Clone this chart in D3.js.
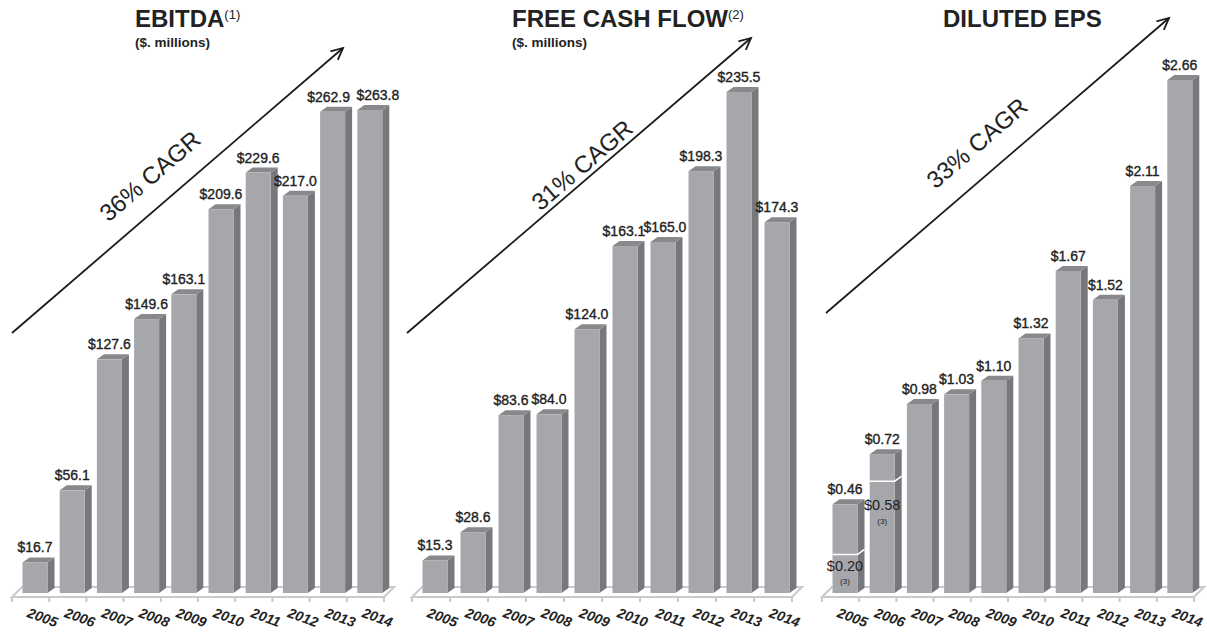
<!DOCTYPE html>
<html>
<head>
<meta charset="utf-8">
<script src="https://cdn.jsdelivr.net/npm/d3@7"></script>
<style>
  body { margin: 0; background: #fff; }
  text { font-family: 'Liberation Sans', Arial, sans-serif; fill: #222; }
</style>
</head>
<body>
<div id="chart"></div>
<script>
// data
const years = ['2005', '2006', '2007', '2008', '2009', '2010', '2011', '2012', '2013', '2014'];
const ebitda = [16.7, 56.1, 127.6, 149.6, 163.1, 209.6, 229.6, 217.0, 262.9, 263.8];
const freeCashFlow = [15.3, 28.6, 83.6, 84.0, 124.0, 163.1, 165.0, 198.3, 235.5, 174.3];
const dilutedEps = [0.46, 0.72, 0.98, 1.03, 1.10, 1.32, 1.67, 1.52, 2.11, 2.66];
const epsAdjusted = [0.20, 0.58];   // footnote (3) values for 2005, 2006
const titles = ['EBITDA', 'FREE CASH FLOW', 'DILUTED EPS'];
const titleNotes = ['(1)', '(2)', ''];
const subtitles = ['($. millions)', '($. millions)', ''];
const cagrLabels = ['36% CAGR', '31% CAGR', '33% CAGR'];

const width = 1207, height = 633;
const base = 593;          // bottom of bar front faces
const floorFront = 597, floorBack = 587;
const dx = 7, dy = 5;      // 3d depth of bars
const barW = 25;

const svg = d3.select('#chart').append('svg')
    .attr('width', width)
    .attr('height', height);

// layout for the three panels
const panels = [
    {values: ebitda, fmt: d3.format('$.1f'), x0: 12, step: 37.2, topPx: 110, titleX: 135,
     arrow: [[12, 333], [343, 48]], cagrAt: [150, 176], nudge: {'2013': -4, '2014': 8}},
    {values: freeCashFlow, fmt: d3.format('$.1f'), x0: 412, step: 38, topPx: 92, titleX: 512,
     arrow: [[407, 333], [751, 38]], cagrAt: [582, 165], nudge: {'2010': -1, '2011': 2}},
    {values: dilutedEps, fmt: d3.format('$.2f'), x0: 822, step: 37.2, topPx: 80, titleX: 943,
     arrow: [[826, 313], [1169, 18]], cagrAt: [977, 143], nudge: {}}
];

panels.forEach((p, pi) => {
    const g = svg.append('g');

    const x = d3.scaleBand()
        .domain(years)
        .range([p.x0, p.x0 + p.step * years.length]);

    const y = d3.scaleLinear()
        .domain([0, d3.max(p.values)])
        .range([base, p.topPx]);

    const bx = d => x(d) + 10.5;   // bar front-left

    // floor
    const fR = x.range()[1];
    g.append('polygon')
        .attr('points', [[p.x0, floorFront], [fR, floorFront], [fR + 10, floorBack], [p.x0 + 10, floorBack]].join(' '))
        .attr('fill', '#fff')
        .attr('stroke', '#c9c9c9')
        .attr('stroke-width', 2);

    g.selectAll('.tick')
        .data(years.concat(['end']))
        .join('line')
        .attr('x1', (d, i) => p.x0 + i * x.step())
        .attr('x2', (d, i) => p.x0 + i * x.step())
        .attr('y1', floorFront)
        .attr('y2', floorFront + 5)
        .attr('stroke', '#c9c9c9')
        .attr('stroke-width', 2);

    const data = years.map((yr, i) => ({year: yr, value: p.values[i]}));

    const bars = g.selectAll('.bar')
        .data(data)
        .join('g')
        .attr('class', 'bar');

    // side face
    bars.append('polygon')
        .attr('points', d => {
            const x1 = bx(d.year) + barW, yt = y(d.value);
            return [[x1, yt], [x1 + dx, yt - dy], [x1 + dx, base - dy], [x1, base]].join(' ');
        })
        .attr('fill', '#77787b');

    // top face
    bars.append('polygon')
        .attr('points', d => {
            const x0 = bx(d.year), yt = y(d.value);
            return [[x0, yt], [x0 + barW, yt], [x0 + barW + dx, yt - dy], [x0 + dx, yt - dy]].join(' ');
        })
        .attr('fill', '#88898c');

    // front face
    bars.append('rect')
        .attr('x', d => bx(d.year))
        .attr('y', d => y(d.value))
        .attr('width', barW)
        .attr('height', d => base - y(d.value))
        .attr('fill', '#a6a7aa');

    // value labels
    bars.append('text')
        .attr('x', d => bx(d.year) + barW / 2 + (p.nudge[d.year] || 0))
        .attr('y', d => y(d.value) - 10)
        .attr('text-anchor', 'middle')
        .style('font-size', '14px')
        .style('stroke', '#222')
        .style('stroke-width', 0.35)
        .text(d => p.fmt(d.value));

    // year labels
    g.selectAll('.year')
        .data(years)
        .join('text')
        .attr('class', 'year')
        .attr('transform', d => `translate(${bx(d) + barW / 2 + 6},${622}) rotate(20)`)
        .attr('text-anchor', 'middle')
        .style('font-size', '14px')
        .style('font-weight', 'bold')
        .style('font-style', 'italic')
        .text(d => d);

    // EPS split values (footnote 3)
    if (pi === 2) {
        const split = epsAdjusted.map((v, i) => ({year: years[i], value: v}));
        const s = g.selectAll('.split')
            .data(split)
            .join('g');
        s.append('path')
            .attr('d', d => {
                const x0 = bx(d.year), ys = y(d.value);
                return `M${x0},${ys}H${x0 + barW}L${x0 + barW + dx},${ys - dy}`;
            })
            .attr('fill', 'none')
            .attr('stroke', '#fff')
            .attr('stroke-width', 1.5);
        s.append('text')
            .attr('x', d => bx(d.year) + barW / 2)
            .attr('y', (d, i) => i === 0 ? y(d.value) + 17 : y(d.value) + 29)
            .attr('text-anchor', 'middle')
            .style('font-size', '14.5px')
            .text(d => p.fmt(d.value));
        s.append('text')
            .attr('x', d => bx(d.year) + barW / 2)
            .attr('y', (d, i) => i === 0 ? y(d.value) + 30 : y(d.value) + 43)
            .attr('text-anchor', 'middle')
            .style('font-size', '8px')
            .text('(3)');
    }

    // titles
    const t = g.append('text')
        .attr('x', p.titleX)
        .attr('y', 27)
        .style('font-size', '24px')
        .style('font-weight', 'bold')
        .text(titles[pi]);
    if (titleNotes[pi]) {
        t.append('tspan')
            .attr('dy', -8)
            .style('font-size', '13px')
            .style('font-weight', 'normal')
            .text(titleNotes[pi]);
    }
    if (subtitles[pi]) {
        g.append('text')
            .attr('x', p.titleX)
            .attr('y', 47)
            .style('font-size', '13.5px')
            .style('font-weight', 'bold')
            .text(subtitles[pi]);
    }

    // CAGR arrow
    const [a, b] = p.arrow;
    const ang = Math.atan2(b[1] - a[1], b[0] - a[0]);
    const head = 13, spread = 0.45;
    g.append('line')
        .attr('x1', a[0]).attr('y1', a[1])
        .attr('x2', b[0]).attr('y2', b[1])
        .attr('stroke', '#1a1a1a')
        .attr('stroke-width', 1.8);
    g.append('path')
        .attr('d', `M${b[0] - head * Math.cos(ang - spread)},${b[1] - head * Math.sin(ang - spread)}` +
            `L${b[0]},${b[1]}` +
            `L${b[0] - head * Math.cos(ang + spread)},${b[1] - head * Math.sin(ang + spread)}`)
        .attr('fill', 'none')
        .attr('stroke', '#1a1a1a')
        .attr('stroke-width', 1.8);

    g.append('text')
        .attr('transform', `translate(${p.cagrAt[0]},${p.cagrAt[1]}) rotate(${ang * 180 / Math.PI})`)
        .attr('text-anchor', 'middle')
        .attr('dy', '0.35em')
        .style('font-size', '24px')
        .text(cagrLabels[pi]);
});
</script>
</body>
</html>
